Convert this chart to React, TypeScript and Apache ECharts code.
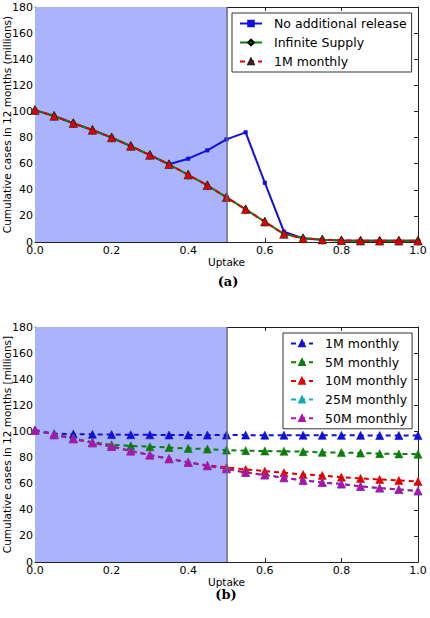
import React, { useEffect, useRef } from 'react';
import * as echarts from 'echarts';

const uptake = [0, 0.05, 0.1, 0.15, 0.2, 0.25, 0.3, 0.35, 0.4, 0.45, 0.5, 0.55, 0.6, 0.65, 0.7, 0.75, 0.8, 0.85, 0.9, 0.95, 1.0];

// Panel (a)
const noAdditionalRelease = [101, 96.5, 91, 85.8, 80, 73.5, 66.6, 59.5, 63.8, 70.2, 78.6, 84, 45.4, 7.9, 2.8, 1.8, 1.2, 1.0, 0.9, 0.9, 0.9];
const infiniteSupply = [101, 96.5, 91, 85.8, 80, 73.5, 66.6, 59.5, 51.5, 43.4, 34.2, 25, 15.5, 6.1, 2.8, 1.8, 1.2, 1.0, 0.9, 0.9, 0.9];
const oneMMonthlyA = [101, 96.5, 91, 85.8, 80, 73.5, 66.6, 59.5, 51.5, 43.4, 34.2, 25, 15.5, 6.1, 2.8, 1.8, 1.2, 1.0, 0.9, 0.9, 0.9];

// Panel (b)
const monthly1M = [101, 98.3, 98, 97.8, 97.6, 97.5, 97.4, 97.3, 97.3, 97.2, 97.2, 97.2, 97.1, 97.1, 97.1, 97.0, 97.0, 97.0, 96.9, 96.9, 96.8];
const monthly5M = [101, 97.8, 94.8, 91.8, 89.8, 89, 88.3, 87.7, 87, 86.5, 85.7, 85.3, 85, 84.8, 84.5, 84, 83.8, 83.5, 83, 82.8, 82.6];
const monthly10M = [101, 97.5, 94.4, 91.3, 88.5, 85, 81.9, 79.1, 76.4, 74, 72.5, 70.9, 69.6, 68.4, 67, 66.3, 65, 64, 63.2, 62.5, 61.6];
const monthly25M = [101, 97.5, 94.4, 91.3, 88.5, 85, 81.9, 79.1, 76.3, 73.7, 71.4, 68.6, 66.6, 64.5, 62.5, 60.9, 59.7, 57.9, 56.6, 55.6, 54.4];
const monthly50M = [101, 97.5, 94.4, 91.3, 88.5, 85, 81.9, 79.1, 76.3, 73.7, 71.4, 68.6, 66.6, 64.5, 62.5, 60.9, 59.7, 57.9, 56.6, 55.6, 54.4];

const shadedRange = [0, 0.5];
const xTickLabelDigits = 1;

const FONT = 'DejaVu Sans';
const AXIS_COLOR = '#222';
const SHADE = '#aab4fd';
const SHADE_EDGE = '#5f6585';

const pairs = (ys: number[]) => uptake.map((x, i) => [x, ys[i]]);

function makeAxes(yName: string) {
  const lineStyle = { color: AXIS_COLOR, width: 1 };
  const common = {
    type: 'value' as const,
    splitLine: { show: false },
    axisLine: { show: true, onZero: false, lineStyle },
    axisTick: { show: true, inside: true, length: 4, lineStyle },
  };
  return {
    xAxis: [
      {
        ...common,
        min: 0, max: 1, interval: 0.2, position: 'bottom',
        name: 'Uptake', nameLocation: 'middle', nameGap: 14, nameMoveOverlap: false,
        nameTextStyle: { fontSize: 10.5, color: '#000', fontFamily: FONT },
        axisLabel: { margin: 3, fontSize: 11, color: '#000', fontFamily: FONT, formatter: (v: number) => v.toFixed(xTickLabelDigits) },
      },
      { ...common, min: 0, max: 1, interval: 0.2, position: 'top', axisLabel: { show: false } },
    ],
    yAxis: [
      {
        ...common,
        min: 0, max: 180, interval: 20, position: 'left',
        name: yName, nameLocation: 'middle', nameGap: 23, nameRotate: 90, nameMoveOverlap: false,
        nameTextStyle: { fontSize: 10.5, color: '#000', fontFamily: FONT },
        axisLabel: { margin: 2, fontSize: 11, color: '#000', fontFamily: FONT },
      },
      { ...common, min: 0, max: 180, interval: 20, position: 'right', axisLabel: { show: false } },
    ],
  };
}

const shadeMarks = {
  markArea: {
    silent: true,
    itemStyle: { color: SHADE, opacity: 1 },
    data: [[{ xAxis: shadedRange[0] }, { xAxis: shadedRange[1] }]],
  },
  markLine: {
    silent: true,
    symbol: 'none',
    label: { show: false },
    lineStyle: { color: SHADE_EDGE, width: 1.5, type: 'solid' },
    data: [{ xAxis: shadedRange[1] }],
  },
};

function lineSeries(name: string, ys: number[], color: string, opts: any = {}) {
  return {
    type: 'line',
    name,
    data: pairs(ys),
    xAxisIndex: 0,
    yAxisIndex: 0,
    color,
    lineStyle: { color, width: 2, type: opts.dashed ? [5, 4] : 'solid' },
    symbol: opts.symbol || 'triangle',
    symbolSize: opts.symbolSize || 8,
    showSymbol: true,
    itemStyle: { color, borderColor: opts.edge || color, borderWidth: opts.edgeWidth ?? 0.6 },
    z: opts.z || 2,
    ...(opts.extra || {}),
  };
}

function legendCfg(names: string[], left: number, top: number, itemGap: number) {
  return {
    data: names,
    orient: 'vertical',
    left,
    top,
    backgroundColor: '#fff',
    borderColor: '#333',
    borderWidth: 1,
    borderRadius: 0,
    padding: [3, 5, 3, 7],
    itemWidth: 22,
    itemHeight: 7,
    itemGap,
    selectedMode: false,
    textStyle: { fontSize: 12.5, color: '#000', fontFamily: FONT, lineHeight: 15, padding: [0, 0, 0, 7] },
  };
}

const gridBase = { left: 35, width: 383, height: 235, containLabel: false, outerBoundsMode: 'none' };

function optionA() {
  return {
    animation: false,
    backgroundColor: '#fff',
    grid: { ...gridBase, top: 7 },
    ...makeAxes('Cumulative cases in 12 months (millions)'),
    legend: legendCfg(['No additional release', 'Infinite Supply', '1M monthly'], 232, 13, 4),
    series: [
      lineSeries('No additional release', noAdditionalRelease, '#1010e0', { symbol: 'rect', symbolSize: 3.5, extra: shadeMarks }),
      lineSeries('Infinite Supply', infiniteSupply, '#0a7d0a', { symbol: 'diamond', symbolSize: [5, 9], edge: '#000', z: 3 }),
      lineSeries('1M monthly', oneMMonthlyA, '#e00000', { dashed: true, symbolSize: 8.5, edge: '#222', z: 4 }),
    ],
    graphic: [
      { type: 'text', x: 228, y: 281, style: { text: '(a)', font: 'bold 13px "DejaVu Serif"', fill: '#000', textAlign: 'center', textVerticalAlign: 'middle' } },
    ],
  };
}

function optionB() {
  return {
    animation: false,
    backgroundColor: '#fff',
    grid: { ...gridBase, top: 17 },
    ...makeAxes('Cumulative cases in 12 months [millions]'),
    legend: legendCfg(['1M monthly', '5M monthly', '10M monthly', '25M monthly', '50M monthly'], 283, 23, 3.7),
    series: [
      lineSeries('1M monthly', monthly1M, '#1010d8', { dashed: true, extra: shadeMarks }),
      lineSeries('5M monthly', monthly5M, '#0a7d0a', { dashed: true }),
      lineSeries('10M monthly', monthly10M, '#e00000', { dashed: true }),
      lineSeries('25M monthly', monthly25M, '#10b0b0', { dashed: true }),
      lineSeries('50M monthly', monthly50M, '#b010b0', { dashed: true }),
    ],
    graphic: [
      { type: 'text', x: 226, y: 284, style: { text: '(b)', font: 'bold 13px "DejaVu Serif"', fill: '#000', textAlign: 'center', textVerticalAlign: 'middle' } },
    ],
  };
}

function Chart({ option, height }: { option: any; height: number }) {
  const ref = useRef<HTMLDivElement>(null);
  useEffect(() => {
    if (!ref.current) return;
    const chart = echarts.init(ref.current, undefined, { renderer: 'svg' });
    chart.setOption(option);
    return () => chart.dispose();
  }, [option]);
  return <div ref={ref} style={{ width: 430, height }} />;
}

const optA = optionA();
const optB = optionB();

export default function App() {
  return (
    <div style={{ position: 'absolute', left: 0, top: 0, width: 430, height: 618, background: '#fff' }}>
      <Chart option={optA} height={310} />
      <Chart option={optB} height={308} />
    </div>
  );
}
